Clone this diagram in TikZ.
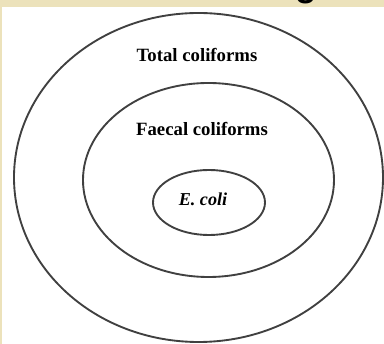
\documentclass[tikz,border=0pt]{standalone}
\usepackage{fontspec}
\setmainfont{Liberation Serif}
\newfontfamily\headfont{Liberation Sans}
\usepackage{tikz}
\usepackage[dvipsnames]{xcolor}
\definecolor{bandcream}{RGB}{236,226,187}

\begin{document}
\begin{tikzpicture}[
x=0.03cm, y=-0.03cm,
ring/.style={draw=black!75, line width=1.6pt},
lbl/.style={inner sep=0, font=\bfseries\fontsize{16}{16}\selectfont}
]
\useasboundingbox (0,0) rectangle (384,344);
\fill[bandcream] (0,0) rectangle (384,344);
\fill[white] (2,7) rectangle (384,344);
% cut-off heading above the picture
\begin{scope}
\clip (0,0) rectangle (384,7);
\node[anchor=base, inner sep=0, font=\headfont\bfseries\fontsize{30}{30}\selectfont] (head) at (306,-3) {g};
\end{scope}
% nested groups
\draw[ring] (198.5,177.5) ellipse [x radius=184.5, y radius=164.5];
\draw[ring] (208.5,180) ellipse [x radius=125.5, y radius=97];
\draw[ring] (209,202.5) ellipse [x radius=56, y radius=32.5];
\node[lbl] (total) at (197,55) {Total coliforms};
\node[lbl] (faecal) at (202,129) {Faecal coliforms};
\node[lbl, font=\bfseries\itshape\fontsize{15.5}{15.5}\selectfont] (ecoli) at (203,199) {E. coli};
\end{tikzpicture}
\end{document}
